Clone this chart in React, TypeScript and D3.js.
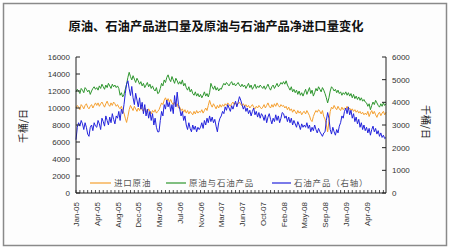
import React from "react";
import * as d3 from "d3";

const title = "原油、石油产品进口量及原油与石油产品净进口量变化";
const seriesNames = ["进口原油", "原油与石油产品", "石油产品（右轴）"];
const xTickLabels = ["Jan-05", "Apr-05", "Aug-05", "Dec-05", "Mar-06", "Jul-06", "Nov-06", "Mar-07", "Jun-07", "Oct-07", "Feb-08", "May-08", "Sep-08", "Jan-09", "Apr-09"];
const leftTicks = [0, 2000, 4000, 6000, 8000, 10000, 12000, 14000, 16000];
const rightTicks = [0, 1000, 2000, 3000, 4000, 5000, 6000];
const unitLabel = "千桶/日";

// weekly values, Jan-05 .. Aug-09
const crude = [
  10000, 10300, 10100, 9800, 10400, 10200, 9900, 10300, 10500, 10100, 9900, 10200, 10400, 10000, 10300, 10600,
  10300, 10600, 10200, 10500, 10700, 10400, 10100, 10500, 10800, 10400, 10200, 10600, 10300, 10700, 10500, 10200,
  10400, 10100, 9900, 10200, 9700, 9400, 8800, 8300, 9000, 9800, 10300, 10000, 9700, 10200, 9900, 9600,
  10000, 9700, 10100, 9800, 9600, 10000, 9700, 9500, 9900, 9600, 9300, 9700, 9500, 9800, 9400, 9600,
  9800, 10200, 10600, 10400, 10900, 11200, 10800, 11100, 10700, 11000, 10600, 10400, 10700, 10200, 10500, 10000,
  10100, 9700, 9900, 9500, 9800, 9400, 9700, 9300, 9600, 9400, 9200, 9600, 9300, 9700, 9400, 9600,
  9500, 9800, 9400, 9700, 10000, 9700, 10300, 10900, 10400, 10100, 10500, 10200, 9900, 10300, 10000, 10400,
  10100, 10400, 10200, 10500, 10300, 10600, 10400, 10200, 10500, 10700, 10400, 10600, 10300, 10500, 10700, 10400,
  10300, 10500, 10200, 10400, 10100, 10300, 10000, 10200, 10400, 10100, 9900, 10200, 10000, 10300, 10100, 9900,
  10100, 10400, 10000, 10300, 10600, 10200, 10000, 10400, 10100, 10500, 10200, 10600, 10300, 10100, 10400, 10200,
  10300, 10000, 10200, 9800, 10100, 9700, 9900, 9500, 9800, 9600, 9300, 9700, 9400, 9600, 9200, 9500,
  9600, 9300, 9700, 9400, 9100, 8600, 8400, 9000, 9400, 9700, 9500, 9800, 9600, 9300, 9700, 9000,
  8700, 8000, 7200, 8400, 9600, 10100, 9900, 10300, 10000, 9800, 10200, 9900, 9700, 10100, 9800, 10000,
  9900, 10200, 9800, 10000, 9700, 9900, 9600, 9800, 9500, 9700, 9400, 9600, 9300, 9500, 9200, 9400,
  9200, 9600, 9000, 9400, 9700, 9300, 9600, 9200, 8900, 9300, 9500, 9100, 9400, 9600, 9200, 9500,
];

const crudeAndProducts = [
  11900, 12200, 12000, 11700, 12300, 12100, 11800, 12400, 12200, 11900, 12100, 11600, 12000, 12300, 12500, 12200,
  12400, 12100, 12600, 12300, 12800, 12500, 12200, 12700, 12400, 12900, 12600, 12300, 12800, 12500, 12700, 12400,
  12600, 12300, 11500, 11800, 11300, 11600, 12200, 12800, 13600, 14200, 13700, 13300, 13800, 13400, 13000, 13500,
  13200, 12800, 13100, 12600, 12900, 12400, 12700, 13000, 12500, 12800, 12300, 12600, 12200, 12000, 12400, 11700,
  11800, 12300, 12900, 12600, 13300, 13000, 13600, 13900, 13400, 13100, 13700, 13300, 12900, 13500, 13200, 12800,
  13100, 12800, 13300, 12600, 12900, 12400, 12100, 12500, 11900, 12200, 11700, 11500, 11900, 11400, 11700, 11300,
  11600, 11200, 11500, 11900, 11400, 11700, 11300, 11800, 12900, 12500, 12200, 12600, 12100, 12400, 12000, 12300,
  12200, 12600, 12900, 12700, 13000, 12800, 12600, 12900, 13100, 12700, 12900, 12600, 12800, 13000, 12700, 12500,
  12800, 12500, 12700, 12300, 12600, 12900, 12400, 12700, 12200, 12500, 12800, 12300, 12600, 12400, 12700, 12500,
  12300, 12600, 12200, 12500, 12800, 12400, 12100, 12500, 12700, 12300, 12600, 12900, 12500, 12700, 13000, 12800,
  13100, 12800, 13200, 12700, 12400, 12100, 12500, 11900, 12200, 11800, 12100, 11600, 12000, 11500, 11800, 11400,
  11800, 12200, 11600, 12000, 12400, 11700, 12100, 11400, 11800, 12300, 12000, 12500, 12200, 11900, 12400, 12100,
  11700, 11200, 10600, 11200, 12000, 12500, 12300, 12000, 12200, 11800, 12100, 11700, 11900, 11500, 11800, 11600,
  11900, 11500, 11800, 11400, 11700, 11200, 11600, 11100, 11400, 11000, 11300, 10900, 11200, 10800, 11000, 10700,
  10600, 10200, 10500, 9800, 10300, 10700, 10400, 10900, 10600, 10300, 10100, 10500, 10200, 10600, 10300, 10500,
];

const products = [
  2350, 2900, 3100, 2950, 3200, 3050, 2800, 3100, 2900, 2600, 2500, 2900, 3000, 2750, 3100, 2950,
  2900, 3200, 3050, 2800, 3300, 3150, 2950, 3400, 3200, 3000, 3350, 3100, 3500, 3250, 3050, 3400,
  3300, 3600, 3200, 3700, 3500, 3900, 4400, 4800, 4950, 4600, 4300, 4700, 4200, 3900, 4400, 4100,
  3800, 4200, 3700, 4000, 3500, 3900, 3400, 3700, 3300, 3600, 3200, 3500, 3000, 3300, 2900, 2700,
  2700, 3200, 3600, 3400, 3900, 3700, 4100, 3800, 4000, 3600, 3900, 3500, 4300, 3800, 4450, 3900,
  3700, 3400, 3600, 3200, 3400, 3000, 2800, 3100, 2850, 2700, 3000, 2800, 2950, 2700, 2900, 2800,
  2900, 3100, 2850, 3200, 3000, 3300, 3100, 3400, 3150, 3350, 3100, 3250, 2950, 2700, 3100, 3300,
  3400, 3600, 3500, 3800, 3650, 3900, 3750, 3600, 3850, 3700, 3900, 4050, 3800, 4000, 4250, 4100,
  3900, 3700, 3850, 3600, 3750, 3500, 3650, 3400, 3600, 3750, 3450, 3600, 3350, 3550, 3300, 3500,
  3400, 3200, 3450, 3100, 3350, 3500, 3250, 3050, 3300, 3150, 3450, 3200, 3400, 3100, 3300, 3550,
  3500, 3300, 3400, 3150, 3350, 3100, 3300, 3000, 3200, 3050, 2900, 3150, 3000, 2800, 3050, 2900,
  3000, 2900, 3100, 2850, 3000, 2700, 2900, 2750, 3000, 2800, 2650, 2850, 2700, 2600, 2500, 2650,
  2700, 3200, 3550, 3300, 2800, 2600, 2900, 2700, 2550, 2800, 2650, 2950, 3100, 3400, 3300, 3600,
  3750, 3500, 3800, 3450, 3650, 3300, 3500, 3150, 3350, 3050, 3250, 2900, 3100, 2800, 3000, 2750,
  2900, 2650, 2850, 2550, 2800, 2950, 2700, 2850, 2600, 2750, 2500, 2650, 2450, 2550, 2400, 2450,
];

const colors = ["#F5A030", "#2E962E", "#2323DC"];

export default function App() {
  const W = 450, H = 250;
  const L = 76, R = 386, T = 57, B = 193;
  const n = crude.length;
  const x = d3.scaleLinear().domain([0, n - 1]).range([L, R]);
  const yL = d3.scaleLinear().domain([0, 16000]).range([B, T]);
  const yR = d3.scaleLinear().domain([0, 6000]).range([B, T]);
  const lineL = d3.line<number>().x((_, i) => x(i)).y((d) => yL(d));
  const lineR = d3.line<number>().x((_, i) => x(i)).y((d) => yR(d));
  const minorTicks = d3.range(0, n, 3);
  const font = "Arial, 'Liberation Sans', 'Noto Sans CJK SC', sans-serif";
  const cjk = "'Noto Sans CJK SC', sans-serif";
  const legendItems = [
    { name: seriesNames[0], color: colors[0], x0: 90, x1: 111, tx: 114 },
    { name: seriesNames[1], color: colors[1], x0: 166, x1: 186, tx: 189 },
    { name: seriesNames[2], color: colors[2], x0: 272, x1: 291, tx: 294 },
  ];
  return (
    <svg width={W} height={H} style={{ position: "absolute", left: 0, top: 0, background: "#fff" }}>
      <rect x={3.5} y={3.5} width={443} height={242} fill="#fdfdfd" stroke="#8a8a8a" strokeWidth={1.5} />
      <text x={216} y={31} textAnchor="middle" fontFamily={cjk} fontWeight="bold" fontSize={12.3} fill="#111">{title}</text>

      {/* lines */}
      <path d={lineL(crudeAndProducts) || ""} fill="none" stroke={colors[1]} strokeWidth={1} />
      <path d={lineL(crude) || ""} fill="none" stroke={colors[0]} strokeWidth={1} />
      <path d={lineR(products) || ""} fill="none" stroke={colors[2]} strokeWidth={1} />

      {/* axes */}
      <line x1={L} y1={T} x2={L} y2={B} stroke="#222" strokeWidth={1} />
      <line x1={R} y1={T} x2={R} y2={B} stroke="#222" strokeWidth={1} />
      <line x1={L} y1={B} x2={R} y2={B} stroke="#222" strokeWidth={1} />
      {leftTicks.map((t) => (
        <g key={"l" + t}>
          <line x1={L} x2={L + 4} y1={yL(t)} y2={yL(t)} stroke="#222" />
          <text x={70} y={yL(t) + 3} textAnchor="end" fontFamily={font} fontSize={8} fill="#333">{t}</text>
        </g>
      ))}
      {rightTicks.map((t) => (
        <g key={"r" + t}>
          <line x1={R - 4} x2={R} y1={yR(t)} y2={yR(t)} stroke="#222" />
          <text x={392} y={yR(t) + 3} textAnchor="start" fontFamily={font} fontSize={8} fill="#333">{t}</text>
        </g>
      ))}
      {minorTicks.map((i) => (
        <line key={"m" + i} x1={x(i)} x2={x(i)} y1={B} y2={B - 3} stroke="#222" strokeWidth={0.8} />
      ))}
      {xTickLabels.map((lab, k) => {
        const px = x(k * 16);
        return (
          <text key={lab} transform={`translate(${px + 3},${202}) rotate(-90)`} textAnchor="end" fontFamily={font} fontSize={8} fill="#333">{lab}</text>
        );
      })}

      {/* axis titles */}
      <text transform="translate(27,126) rotate(-90)" textAnchor="middle" fontFamily={cjk} fontSize={10} fill="#222">{unitLabel}</text>
      <text transform="translate(422,122) rotate(90)" textAnchor="middle" fontFamily={cjk} fontSize={10} fill="#222">{unitLabel}</text>

      {/* legend */}
      {legendItems.map((it) => (
        <g key={it.name}>
          <line x1={it.x0} x2={it.x1} y1={183} y2={183} stroke={it.color} strokeWidth={1.2} />
          <text x={it.tx} y={186} fontFamily={cjk} fontSize={8.5} letterSpacing={0.8} fill="#555">{it.name}</text>
        </g>
      ))}
    </svg>
  );
}
